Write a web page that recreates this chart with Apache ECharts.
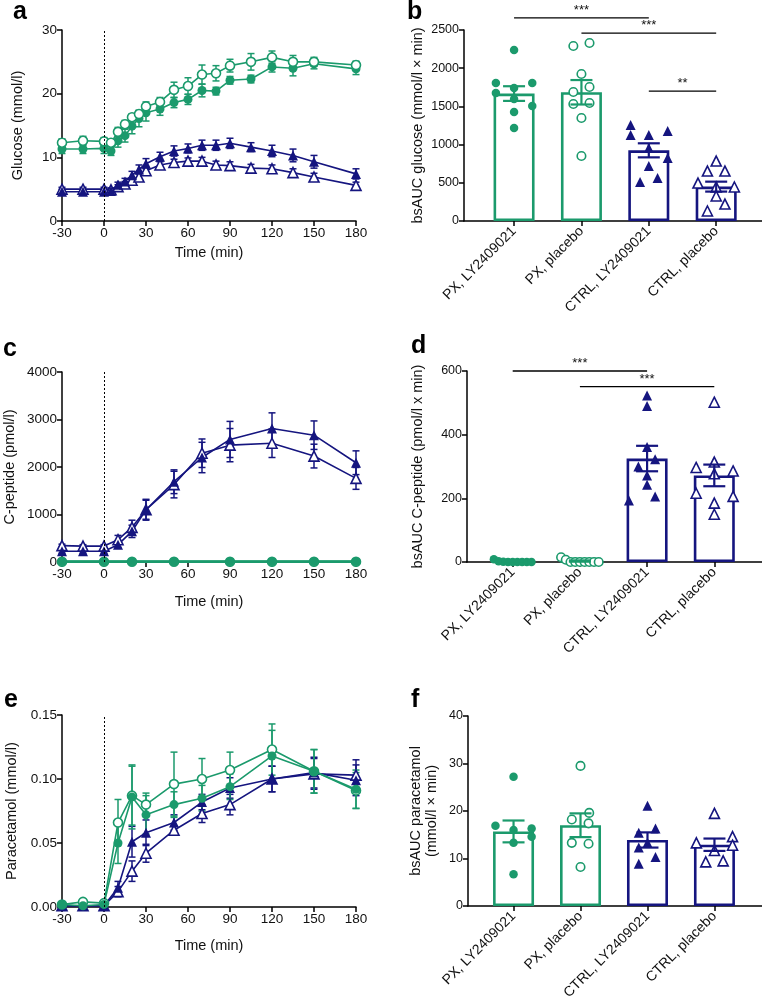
<!DOCTYPE html>
<html>
<head>
<meta charset="utf-8">
<script src="https://cdn.jsdelivr.net/npm/echarts@6.0.0/dist/echarts.min.js"></script>
<style>
html, body { margin: 0; padding: 0; background: #fff; }
#main { width: 762px; height: 1006px; }
</style>
</head>
<body>
<div id="main"></div>
<script>
// groups on the bar panels
var groups = ['PX, LY2409021', 'PX, placebo', 'CTRL, LY2409021', 'CTRL, placebo'];

// a - glucose time course
var glucTime = [-30, -15, 0, 5, 10, 15, 20, 25, 30, 40, 50, 60, 70, 80, 90, 105, 120, 135, 150, 180];
var glucPxLy = [11.3, 11.3, 11.4, 11.0, 12.6, 13.4, 14.9, 16.1, 17.0, 17.6, 18.6, 19.1, 20.5, 20.4, 22.1, 22.3, 24.2, 24.0, 24.7, 23.9];
var glucPxLySem = [0.7, 0.7, 0.8, 0.7, 1.0, 1.0, 1.2, 1.3, 1.3, 1.0, 0.8, 0.8, 1.0, 0.6, 0.6, 0.6, 0.8, 1.2, 0.8, 0.9];
var glucPxPl = [12.3, 12.6, 12.5, 12.3, 14.0, 15.2, 16.3, 16.8, 18.0, 18.7, 20.6, 21.2, 23.0, 23.2, 24.4, 25.0, 25.7, 25.0, 25.0, 24.5];
var glucPxPlSem = [0.6, 0.7, 0.6, 0.5, 0.7, 0.6, 0.5, 0.5, 0.7, 0.7, 1.2, 1.3, 1.5, 1.2, 1.0, 1.3, 1.0, 1.0, 0.7, 0.6];
var glucCtLy = [4.6, 4.6, 4.6, 4.7, 5.7, 6.2, 7.2, 8.1, 9.0, 10.1, 11.0, 11.4, 11.9, 11.9, 12.2, 11.6, 11.0, 10.3, 9.3, 7.4];
var glucCtLySem = [0.4, 0.4, 0.4, 0.4, 0.4, 0.5, 0.6, 0.7, 0.8, 0.7, 0.8, 0.7, 0.8, 0.8, 0.8, 0.7, 0.9, 1.0, 1.0, 0.8];
var glucCtPl = [5.0, 5.0, 5.0, 4.9, 5.4, 5.8, 6.4, 6.9, 7.9, 8.8, 9.2, 9.4, 9.4, 8.8, 8.7, 8.3, 8.2, 7.6, 6.9, 5.6];
var glucCtPlSem = [0.3, 0.3, 0.3, 0.3, 0.3, 0.4, 0.4, 0.5, 0.5, 0.5, 0.5, 0.5, 0.6, 0.6, 0.6, 0.6, 0.6, 0.6, 0.6, 0.5];

// b - bsAUC glucose
var glucAucMean = [1668, 1685, 925, 450];
var glucAucSem = [96, 160, 92, 65];
var glucAucPxLy = [2238, 1806, 1806, 1675, 1741, 1597, 1505, 1427, 1217];
var glucAucPxPl = [2291, 2330, 1924, 1689, 1754, 1531, 1545, 1348, 851];
var glucAucCtLy = [1257, 1126, 1126, 1178, 955, 825, 720, 510, 563];
var glucAucCtPl = [785, 654, 654, 497, 445, 445, 327, 222, 131];
var glucJitPxLy = [0, -0.27, 0.27, -0.27, 0, 0, 0.27, 0, 0];
var glucJitPxPl = [-0.12, 0.12, 0, -0.12, 0.12, -0.12, 0.12, 0, 0];
var glucJitCtLy = [-0.27, -0.27, 0, 0.28, 0, 0.28, 0, -0.13, 0.13];
var glucJitCtPl = [0, -0.13, 0.13, -0.27, 0.27, 0, 0, 0.13, -0.13];
var glucSig = [[0, 2, 2660], [1, 3, 2460], [2, 3, 1700]];
var glucSigText = ['***', '***', '**'];

// c - C-peptide time course
var cpepTime = [-30, -15, 0, 10, 20, 30, 50, 70, 90, 120, 150, 180];
var cpepCtLy = [225, 225, 225, 365, 645, 1100, 1690, 2200, 2580, 2810, 2670, 2090];
var cpepCtLySem = [40, 40, 40, 60, 130, 200, 250, 320, 380, 330, 300, 250];
var cpepCtPl = [345, 335, 335, 470, 730, 1100, 1630, 2290, 2460, 2500, 2230, 1760];
var cpepCtPlSem = [30, 30, 30, 90, 150, 220, 280, 300, 350, 300, 250, 230];
var cpepPxTime = [-30, 0, 20, 50, 90, 120, 150, 180];
var cpepPxLy = [8, 8, 8, 9, 8, 8, 8, 8];
var cpepPxPl = [5, 5, 6, 6, 5, 5, 5, 5];

// d - bsAUC C-peptide
var cpepAucMean = [2, 3, 325, 272];
var cpepAucSem = [1, 2, 40, 34];
var cpepAucPxLy = [9, 2, 1, 0, 0, 0, 0, 0, 0];
var cpepAucPxPl = [15, 7, 0, 0, 0, 0, 0, 0, 0];
var cpepAucCtLy = [523, 490, 361, 300, 323, 272, 243, 193, 206];
var cpepAucCtPl = [502, 297, 314, 286, 277, 216, 206, 185, 150];
var cpepJitPx = [-0.28, -0.21, -0.14, -0.07, 0, 0.07, 0.14, 0.21, 0.28];
var cpepJitCtLy = [0, 0, 0, -0.13, 0.12, 0, 0, -0.27, 0.12];
var cpepJitCtPl = [0, -0.27, 0, 0.28, 0, -0.27, 0.28, 0, 0];
var cpepSig = [[0, 2, 600], [1, 3, 551]];
var cpepSigText = ['***', '***'];

// e - paracetamol time course
var paraTime = [-30, -15, 0, 10, 20, 30, 50, 70, 90, 120, 150, 180];
var paraPxPl = [0.002, 0.004, 0.003, 0.066, 0.087, 0.080, 0.096, 0.100, 0.107, 0.123, 0.106, 0.091];
var paraPxPlSem = [0.001, 0.001, 0.001, 0.018, 0.023, 0.009, 0.025, 0.016, 0.014, 0.020, 0.017, 0.014];
var paraPxLy = [0.002, 0.001, 0.002, 0.050, 0.086, 0.072, 0.080, 0.085, 0.094, 0.118, 0.106, 0.092];
var paraPxLySem = [0.001, 0.001, 0.001, 0.016, 0.025, 0.015, 0.010, 0.010, 0.010, 0.020, 0.017, 0.015];
var paraCtLy = [0.001, 0.001, 0.001, 0.015, 0.051, 0.058, 0.066, 0.082, 0.093, 0.100, 0.105, 0.099];
var paraCtLySem = [0.001, 0.001, 0.001, 0.005, 0.012, 0.010, 0.006, 0.006, 0.008, 0.010, 0.012, 0.012];
var paraCtPl = [0.001, 0.001, 0.001, 0.012, 0.028, 0.042, 0.060, 0.073, 0.080, 0.100, 0.104, 0.103];
var paraCtPlSem = [0.001, 0.001, 0.001, 0.004, 0.008, 0.007, 0.003, 0.007, 0.008, 0.010, 0.012, 0.012];

// f - bsAUC paracetamol
var paraAucMean = [15.7, 17.0, 13.9, 12.9];
var paraAucSem = [2.3, 2.5, 1.6, 1.3];
var paraAucPxLy = [27.2, 16.9, 16.0, 16.3, 14.6, 13.3, 6.7];
var paraAucPxPl = [29.5, 19.6, 18.2, 17.4, 13.3, 13.1, 8.2];
var paraAucCtLy = [21.1, 15.4, 16.3, 12.3, 13.3, 10.3, 8.9];
var paraAucCtPl = [19.5, 13.3, 14.6, 12.8, 9.3, 11.7, 9.5];
var paraJitPxLy = [0, -0.27, 0, 0.27, 0.27, 0, 0];
var paraJitPxPl = [0, 0.13, -0.13, 0.12, -0.13, 0.12, 0];
var paraJitCtLy = [0, -0.13, 0.12, -0.13, 0, 0.12, -0.13];
var paraJitCtPl = [0, -0.27, 0.27, 0.27, -0.13, 0, 0.13];

var GREEN = '#1b9a6c';
var NAVY = '#15157f';
var groupColor = [GREEN, GREEN, NAVY, NAVY];
var FONT = '"Liberation Sans", Arial, sans-serif';

var myChart = echarts.init(document.getElementById('main'), null, {renderer: 'canvas'});

function axisCommon() {
	return {
		axisLine: {show: true, onZero: false, lineStyle: {color: '#000', width: 1.5}},
		axisTick: {show: true, length: 5, lineStyle: {color: '#000', width: 1.5}},
		splitLine: {show: false}
	};
}

function plain(v) { return String(v); }

function timeXAxis(gi, gap) {
	return Object.assign(axisCommon(), {
		type: 'value', gridIndex: gi, min: -30, max: 180, interval: 30,
		axisLabel: {color: '#111', fontSize: 13.5, fontFamily: FONT, margin: 5, formatter: plain},
		name: 'Time (min)', nameLocation: 'middle', nameGap: gap,
		nameTextStyle: {color: '#111', fontSize: 14.5, fontFamily: FONT}
	});
}

function groupXAxis(gi, min, max) {
	var ax = axisCommon();
	ax.axisTick.customValues = [0, 1, 2, 3];
	return Object.assign(ax, {
		type: 'value', gridIndex: gi, min: min, max: max,
		axisLabel: {
			customValues: [0, 1, 2, 3], rotate: 45, margin: 8,
			color: '#111', fontSize: 14, fontFamily: FONT,
			formatter: function (v) { return groups[Math.round(v)]; }
		}
	});
}

function yAxisOf(gi, max, interval, name, gap, fmt, fs) {
	return Object.assign(axisCommon(), {
		type: 'value', gridIndex: gi, min: 0, max: max, interval: interval,
		axisLabel: {color: '#111', fontSize: fs || 13.5, fontFamily: FONT, margin: 5, formatter: fmt || plain},
		name: name, nameLocation: 'middle', nameGap: gap,
		nameTextStyle: {color: '#111', fontSize: 14.5, fontFamily: FONT, lineHeight: 16}
	});
}

function lineSeries(gi, t, m, shape, filled, color, lw) {
	return {
		type: 'line', xAxisIndex: gi, yAxisIndex: gi, z: 4,
		data: t.map(function (x, i) { return [x, m[i]]; }),
		symbol: shape, symbolSize: shape === 'triangle' ? 10 : 9,
		showAllSymbol: true,
		lineStyle: {color: color, width: lw || 1.6},
		itemStyle: filled ? {color: color} : {color: '#fff', borderColor: color, borderWidth: 1.6}
	};
}

function errorBars(gi, t, m, s, color, cap, width, z) {
	return {
		type: 'custom', xAxisIndex: gi, yAxisIndex: gi, z: z || 3, silent: true,
		data: t.map(function (x, i) { return [x, m[i] - s[i], m[i] + s[i]]; }),
		encode: {x: 0, y: [1, 2]},
		renderItem: function (params, api) {
			var lo = api.coord([api.value(0), api.value(1)]);
			var hi = api.coord([api.value(0), api.value(2)]);
			var st = {stroke: color || groupColor[params.dataIndex], lineWidth: width};
			return {type: 'group', children: [
				{type: 'line', shape: {x1: lo[0], y1: lo[1], x2: hi[0], y2: hi[1]}, style: st},
				{type: 'line', shape: {x1: lo[0] - cap, y1: lo[1], x2: lo[0] + cap, y2: lo[1]}, style: st},
				{type: 'line', shape: {x1: hi[0] - cap, y1: hi[1], x2: hi[0] + cap, y2: hi[1]}, style: st}
			]};
		}
	};
}

function zeroLine(gi) {
	// dotted line at time 0
	return {
		type: 'line', xAxisIndex: gi, yAxisIndex: gi, data: [], z: 1,
		markLine: {
			silent: true, symbol: 'none', label: {show: false}, animation: false,
			lineStyle: {color: '#000', type: [2, 2], width: 1},
			data: [{xAxis: 0}]
		}
	};
}

function barSeries(gi, means) {
	return {
		type: 'bar', xAxisIndex: gi, yAxisIndex: gi, barWidth: 41, z: 1,
		data: means.map(function (v, i) {
			return {value: [i, v], itemStyle: {color: '#fff', borderColor: groupColor[i], borderWidth: 2.6}};
		})
	};
}

function dotSeries(gi, ci, vals, jit, shape, filled, color) {
	return {
		type: 'scatter', xAxisIndex: gi, yAxisIndex: gi, z: 4,
		data: vals.map(function (v, k) { return [ci + jit[k], v]; }),
		symbol: shape, symbolSize: shape === 'triangle' ? 10 : 8.5,
		itemStyle: filled ? {color: color, opacity: 1} : {color: '#fff', borderColor: color, borderWidth: 1.6, opacity: 1}
	};
}

function brackets(gi, sig, labels) {
	return {
		type: 'custom', xAxisIndex: gi, yAxisIndex: gi, z: 5, silent: true, clip: false,
		data: sig,
		encode: {x: [0, 1], y: 2},
		renderItem: function (params, api) {
			var a = api.coord([api.value(0), api.value(2)]);
			var b = api.coord([api.value(1), api.value(2)]);
			return {type: 'group', children: [
				{type: 'line', shape: {x1: a[0], y1: a[1], x2: b[0], y2: a[1]}, style: {stroke: '#000', lineWidth: 1.3}},
				{type: 'text', x: (a[0] + b[0]) / 2, y: a[1] - 1,
					style: {text: labels[params.dataIndex], fill: '#111', font: '13px ' + FONT, textAlign: 'center', textVerticalAlign: 'bottom'}}
			]};
		}
	};
}

function barPanel(gi, means, sems, groupsData, sig, sigText) {
	var list = [barSeries(gi, means), errorBars(gi, [0, 1, 2, 3], means, sems, null, 11, 2.2, 5)];
	groupsData.forEach(function (g, ci) {
		list.push(dotSeries(gi, ci, g[0], g[1], ci < 2 ? 'circle' : 'triangle', ci % 2 === 0, groupColor[ci]));
	});
	if (sig) list.push(brackets(gi, sig, sigText));
	return list;
}

function letter(t, x, y) {
	return {type: 'text', left: x, top: y, style: {text: t, font: 'bold 25px ' + FONT, fill: '#000'}};
}

var series = [];
// a
series.push(zeroLine(0));
series.push(errorBars(0, glucTime, glucCtPl, glucCtPlSem, NAVY, 3.5, 1.5));
series.push(errorBars(0, glucTime, glucCtLy, glucCtLySem, NAVY, 3.5, 1.5));
series.push(errorBars(0, glucTime, glucPxLy, glucPxLySem, GREEN, 3.5, 1.5));
series.push(errorBars(0, glucTime, glucPxPl, glucPxPlSem, GREEN, 3.5, 1.5));
series.push(lineSeries(0, glucTime, glucCtPl, 'triangle', false, NAVY));
series.push(lineSeries(0, glucTime, glucCtLy, 'triangle', true, NAVY));
series.push(lineSeries(0, glucTime, glucPxLy, 'circle', true, GREEN));
series.push(lineSeries(0, glucTime, glucPxPl, 'circle', false, GREEN));
// b
series = series.concat(barPanel(1, glucAucMean, glucAucSem, [
	[glucAucPxLy, glucJitPxLy], [glucAucPxPl, glucJitPxPl], [glucAucCtLy, glucJitCtLy], [glucAucCtPl, glucJitCtPl]
], glucSig, glucSigText));
// c
series.push(zeroLine(2));
series.push(errorBars(2, cpepTime, cpepCtPl, cpepCtPlSem, NAVY, 3.5, 1.5));
series.push(errorBars(2, cpepTime, cpepCtLy, cpepCtLySem, NAVY, 3.5, 1.5));
series.push(lineSeries(2, cpepTime, cpepCtPl, 'triangle', false, NAVY));
series.push(lineSeries(2, cpepTime, cpepCtLy, 'triangle', true, NAVY));
series.push(lineSeries(2, cpepPxTime, cpepPxPl, 'circle', false, GREEN, 2.6));
series.push(lineSeries(2, cpepPxTime, cpepPxLy, 'circle', true, GREEN, 2.6));
// d
series = series.concat(barPanel(3, cpepAucMean, cpepAucSem, [
	[cpepAucPxLy, cpepJitPx], [cpepAucPxPl, cpepJitPx], [cpepAucCtLy, cpepJitCtLy], [cpepAucCtPl, cpepJitCtPl]
], cpepSig, cpepSigText));
// e
series.push(zeroLine(4));
series.push(errorBars(4, paraTime, paraCtPl, paraCtPlSem, NAVY, 3.5, 1.5));
series.push(errorBars(4, paraTime, paraCtLy, paraCtLySem, NAVY, 3.5, 1.5));
series.push(errorBars(4, paraTime, paraPxPl, paraPxPlSem, GREEN, 3.5, 1.5));
series.push(errorBars(4, paraTime, paraPxLy, paraPxLySem, GREEN, 3.5, 1.5));
series.push(lineSeries(4, paraTime, paraCtPl, 'triangle', false, NAVY));
series.push(lineSeries(4, paraTime, paraCtLy, 'triangle', true, NAVY));
series.push(lineSeries(4, paraTime, paraPxPl, 'circle', false, GREEN));
series.push(lineSeries(4, paraTime, paraPxLy, 'circle', true, GREEN));
// f
series = series.concat(barPanel(5, paraAucMean, paraAucSem, [
	[paraAucPxLy, paraJitPxLy], [paraAucPxPl, paraJitPxPl], [paraAucCtLy, paraJitCtLy], [paraAucCtPl, paraJitCtPl]
]));

var option = {
	animation: false,
	backgroundColor: '#fff',
	textStyle: {fontFamily: FONT},
	grid: [
		{left: 62, top: 30, width: 294, height: 191},
		{left: 464, top: 30, width: 298, height: 191},
		{left: 62, top: 372, width: 294, height: 190},
		{left: 467, top: 371, width: 295, height: 191},
		{left: 62, top: 715, width: 294, height: 192},
		{left: 468, top: 716, width: 294, height: 190}
	],
	xAxis: [
		timeXAxis(0, 24),
		groupXAxis(1, -0.743, 3.68),
		timeXAxis(2, 32),
		groupXAxis(3, -0.68, 3.71),
		timeXAxis(4, 31),
		groupXAxis(5, -0.68, 3.71)
	],
	yAxis: [
		yAxisOf(0, 30, 10, 'Glucose (mmol/l)', 36),
		yAxisOf(1, 2500, 500, 'bsAUC glucose (mmol/l \u00d7 min)', 38, null, 12.5),
		yAxisOf(2, 4000, 1000, 'C-peptide (pmol/l)', 44),
		yAxisOf(3, 600, 200, 'bsAUC C-peptide (pmol/l x min)', 41, null, 12.5),
		yAxisOf(4, 0.15, 0.05, 'Paracetamol (mmol/l)', 42, function (v) { return v.toFixed(2); }),
		yAxisOf(5, 40, 10, 'bsAUC paracetamol\n(mmol/l \u00d7 min)', 28, null, 12.5)
	],
	graphic: [
		letter('a', 13, 0), letter('b', 407, 0),
		letter('c', 3, 337), letter('d', 411, 334),
		letter('e', 4, 688), letter('f', 411, 688)
	],
	series: series
};

myChart.setOption(option);
</script>
</body>
</html>
